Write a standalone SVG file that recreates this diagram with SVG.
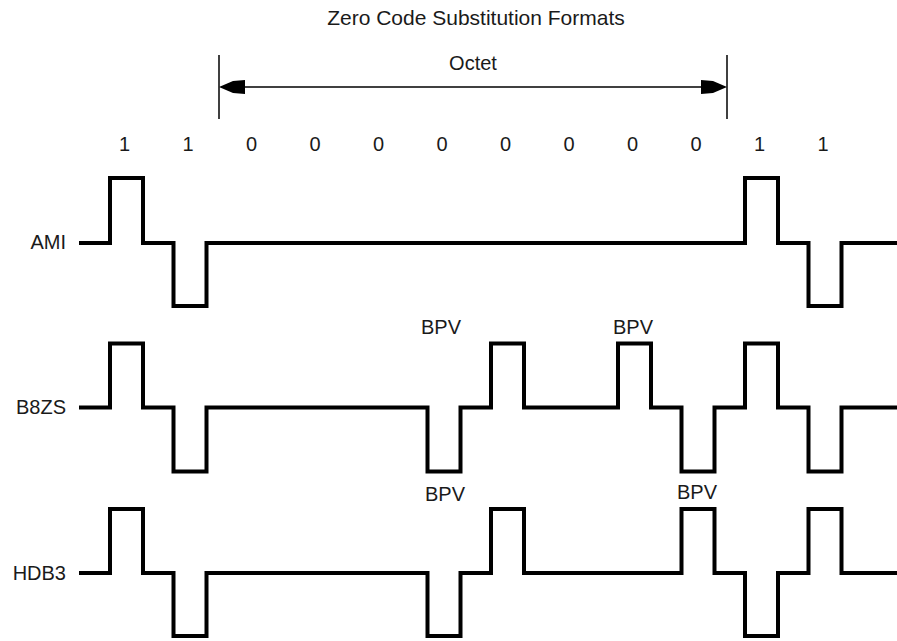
<svg xmlns="http://www.w3.org/2000/svg" width="897" height="641" viewBox="0 0 897 641">
<style>
text{font-family:"Liberation Sans",Arial,sans-serif;font-size:20px;fill:#1a1a1a}
.lbl{text-anchor:end}
.c{text-anchor:middle}
.wave{fill:none;stroke:#000;stroke-width:4;stroke-linejoin:miter;stroke-linecap:butt}
.thin{fill:none;stroke:#000;stroke-width:1.5}
</style>
<rect width="897" height="641" fill="#fff"/>
<g id="title"><text class="c" x="476" y="25" style="font-size:21px">Zero Code Substitution Formats</text></g>
<g id="octet">
<line class="thin" x1="219" y1="55" x2="219" y2="119"/>
<line class="thin" x1="727" y1="55" x2="727" y2="119"/>
<line class="thin" x1="240" y1="87" x2="706" y2="87"/>
<polygon points="219,87 226,84 233,81 245,80 245,94 233,93 226,90" fill="#000"/>
<polygon points="727,87 720,90 713,93 701,94 701,80 713,81 720,84" fill="#000"/>
<text class="c" x="473" y="70">Octet</text>
</g>
<g id="bits">
<text class="c" x="124.5" y="151">1</text>
<text class="c" x="188" y="151">1</text>
<text class="c" x="251.5" y="151">0</text>
<text class="c" x="315" y="151">0</text>
<text class="c" x="378.5" y="151">0</text>
<text class="c" x="442" y="151">0</text>
<text class="c" x="505.5" y="151">0</text>
<text class="c" x="569" y="151">0</text>
<text class="c" x="632.5" y="151">0</text>
<text class="c" x="696" y="151">0</text>
<text class="c" x="759.5" y="151">1</text>
<text class="c" x="823" y="151">1</text>
</g>
<g id="ami">
<text class="lbl" x="66" y="249">AMI</text>
<path class="wave" d="M79,243 H110 V178 H143 V243 H173.5 V306 H206.5 V243 H745 V178 H778 V243 H808.5 V306 H841.5 V243 H897"/>
</g>
<g id="b8zs">
<text class="lbl" x="66" y="414">B8ZS</text>
<text class="c" x="441" y="334">BPV</text>
<text class="c" x="633" y="334">BPV</text>
<path class="wave" d="M79,407.5 H110 V343.5 H143 V407.5 H173.5 V471.5 H206.5 V407.5 H427.5 V471.5 H460.5 V407.5 H491 V343.5 H524 V407.5 H618 V343.5 H651 V407.5 H681.5 V471.5 H714.5 V407.5 H745 V343.5 H778 V407.5 H808.5 V471.5 H841.5 V407.5 H897"/>
</g>
<g id="hdb3">
<text class="lbl" x="66" y="580">HDB3</text>
<text class="c" x="445" y="501">BPV</text>
<text class="c" x="697" y="499">BPV</text>
<path class="wave" d="M79,573 H110 V509 H143 V573 H173.5 V636 H206.5 V573 H427.5 V636 H460.5 V573 H491 V509 H524 V573 H681.5 V509 H714.5 V573 H745 V636 H778 V573 H808.5 V509 H841.5 V573 H897"/>
</g>
</svg>
